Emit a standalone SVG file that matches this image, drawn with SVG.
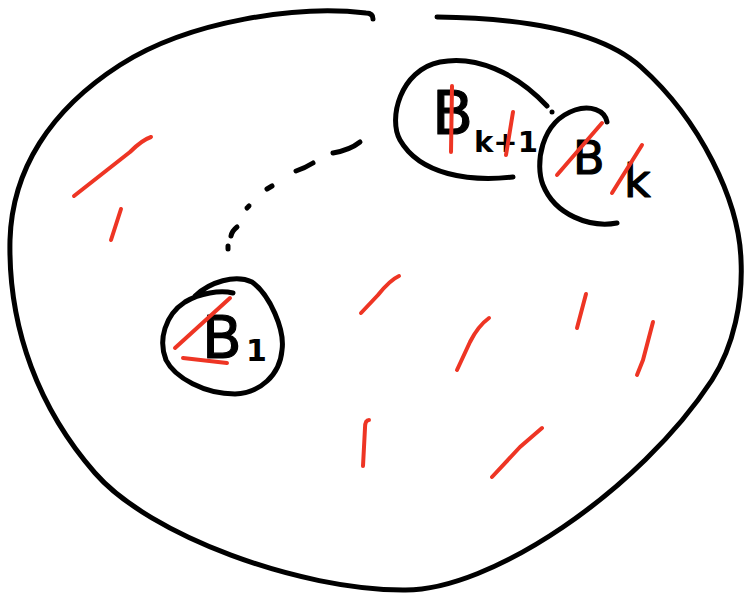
<svg xmlns="http://www.w3.org/2000/svg" width="744" height="594" viewBox="0 0 744 594">
<style>
.ink{fill:none;stroke:#000;stroke-width:5;stroke-linecap:round;stroke-linejoin:round}
.red{fill:none;stroke:#ee3524;stroke-width:4;stroke-linecap:round;stroke-linejoin:round}
.lbl{font-family:"DejaVu Sans",sans-serif;fill:#000;stroke:#000;stroke-width:1.2;stroke-linejoin:round}
.sub{font-family:"DejaVu Sans",sans-serif;font-weight:bold;fill:#000}
</style>
<rect width="744" height="594" fill="#fff"/>
<g id="outer-set">
<path class="ink" d="M373,19 Q373,13 366,13 C300,5 190,20 120,65 C50,110 12,170 10,240 C8,330 40,410 95,473 C150,536 300,590 403,590 C490,592 640,490 712,380 C734,346 743,300 741,260 C739,200 700,120 641,67 C600,30 520,18 437,17"/>
</g>
<g id="red-marks">
<path class="red" d="M151,137 Q142,140 130,152 L74,196"/>
<path class="red" d="M121,209 L111,240"/>
<path class="red" d="M399,276 Q390,280 378,295 L361,313"/>
<path class="red" d="M489,318 Q478,326 470,342 L457,370"/>
<path class="red" d="M586,294 L577,328"/>
<path class="red" d="M653,322 L643,360 L637,375"/>
<path class="red" d="M369,420 Q365,420 365,428 L363,466"/>
<path class="red" d="M542,428 L520,447 L492,477"/>
</g>
<g id="node-Bk1">
<path class="ink" d="M513,177 C470,182 420,175 400,140 C388,119 400,70 440,62 C475,55 515,72 547,106"/>
<circle cx="552" cy="112" r="2.5" fill="#000"/>
<text class="lbl" x="432" y="134" font-size="60">B</text>
<text class="sub" x="474" y="152" font-size="29" textLength="64" lengthAdjust="spacingAndGlyphs">k+1</text>
<path class="red" d="M452,86 L451,152"/>
<path class="red" d="M513,112 L506,155"/>
</g>
<g id="node-Bk">
<path class="ink" d="M617,223 C590,228 555,215 543,185 C535,165 540,122 575,110 C590,105 605,110 607,122"/>
<text class="lbl" x="573" y="174" font-size="46">B</text>
<text class="lbl" x="624" y="197" font-size="46">k</text>
<path class="red" d="M602,123 L557,175"/>
<path class="red" d="M642,145 L612,193"/>
</g>
<g id="node-B1">
<path class="ink" d="M195,296 C210,282 235,274 252,282 C270,295 285,330 282,350 C280,375 260,393 235,394 C205,394 175,378 166,360 C158,340 165,315 185,302 C200,293 220,290 233,293"/>
<text class="lbl" x="202" y="358" font-size="58">B</text>
<text class="sub" x="246" y="361" font-size="30">1</text>
<path class="red" d="M230,298 L175,348"/>
<path class="red" d="M183,358 L227,363"/>
</g>
<g id="connectors">
<path class="ink" d="M360,142 Q350,150 333,153"/>
<path class="ink" d="M313,163 Q305,168 296,171"/>
<path class="ink" d="M272,186 L267,189"/>
<path class="ink" d="M249,206 L247,208"/>
<path class="ink" d="M237,227 Q232,231 231,236"/>
<path class="ink" d="M228,246 L228,249"/>
</g>
</svg>
